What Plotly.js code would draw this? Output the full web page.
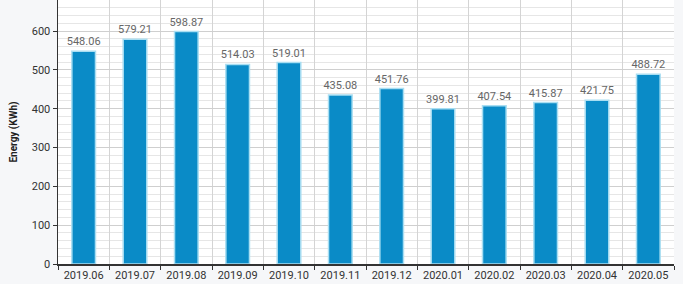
<!DOCTYPE html>
<html><head><meta charset="utf-8">
<script src="https://cdn.plot.ly/plotly-3.0.1.min.js"></script>
<style>html,body{margin:0;padding:0;background:#f6f7f9;}#c{width:683px;height:284px;}</style>
</head><body><div id="c"></div>
<script>
const months = ["2019.06","2019.07","2019.08","2019.09","2019.10","2019.11","2019.12","2020.01","2020.02","2020.03","2020.04","2020.05"];
const energy = [548.06,579.21,598.87,514.03,519.01,435.08,451.76,399.81,407.54,415.87,421.75,488.72];
const yTicks = [0,100,200,300,400,500,600];

Plotly.newPlot('c',[{
  type:'bar', x:months, y:energy,
  text:energy.map(v=>v.toFixed(2)), textposition:'outside', cliponaxis:false, constraintext:'none',
  textfont:{family:'Roboto',size:11,color:'#666'},
  marker:{color:'#0a8bc7',line:{color:'#a9def2',width:1.5}},
  width:0.46, hoverinfo:'none'
}],{
  width:683,height:284,
  margin:{l:58,r:9,t:0,b:20},
  paper_bgcolor:'#f6f7f9', plot_bgcolor:'#ffffff',
  font:{family:'Roboto',color:'#333'},
  showlegend:false,
  xaxis:{type:'category',tickson:'boundaries',showgrid:true,gridcolor:'#d4d4d4',gridwidth:1,
    ticks:'outside',ticklen:4,tickcolor:'#333',showline:true,linecolor:'#333',linewidth:1.5,
    tickfont:{size:11,color:'#333'},fixedrange:true},
  yaxis:{range:[0,680],tickvals:yTicks,ticks:'outside',ticklen:4,tickcolor:'#333',
    showline:true,linecolor:'#333',linewidth:1.5,zeroline:false,
    showgrid:true,gridcolor:'#cfcfcf',gridwidth:1,
    minor:{dtick:20,showgrid:true,gridcolor:'#e6e6e6',gridwidth:1},
    tickfont:{size:11,color:'#333'},
    title:{text:'Energy (KWh)',font:{size:10,color:'#222',weight:'bold'},standoff:12}}
},{displayModeBar:false,staticPlot:true});
</script></body></html>
